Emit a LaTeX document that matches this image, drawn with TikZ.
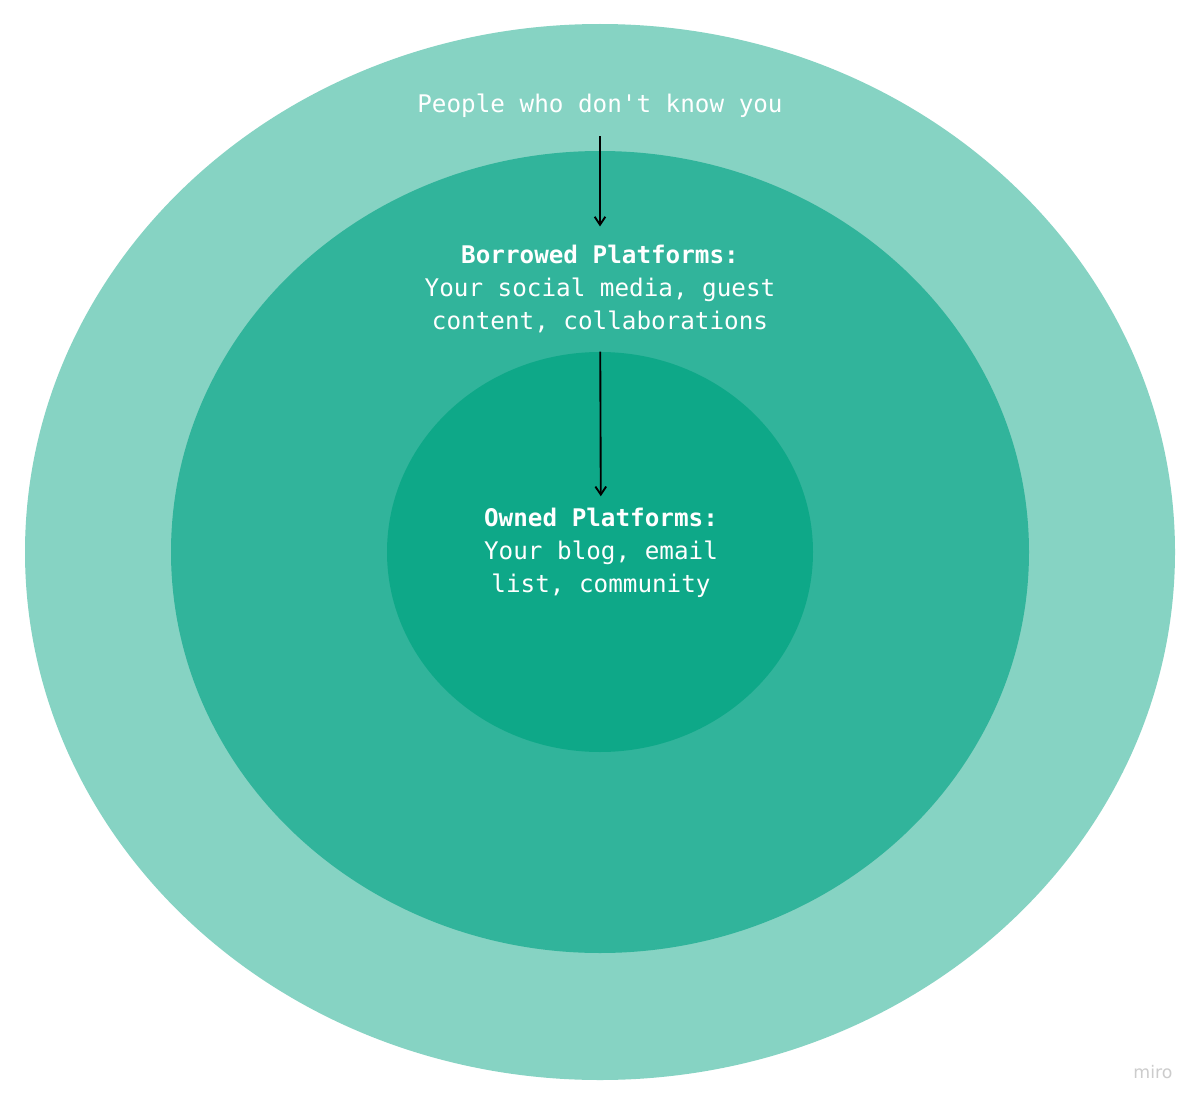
\documentclass[tikz,border=0pt]{standalone}
\usepackage{fontspec}
\setmonofont{DejaVu Sans Mono}
\setsansfont{DejaVu Sans}
\usetikzlibrary{arrows.meta,positioning}
\definecolor{ringout}{RGB}{134,211,195}
\definecolor{ringmid}{RGB}{49,180,155}
\definecolor{ringin}{RGB}{14,168,136}

\begin{document}
\begin{tikzpicture}[x=0.75pt,y=-0.75pt,
      every node/.style={font=\ttfamily\fontsize{18.2}{24.75}\selectfont},
      lbl/.style={text=white,align=center,inner sep=0pt,outer sep=14pt},
      ->,>={Straight Barb[length=6pt,width=8pt]}]
      \useasboundingbox[fill=white] (0,0) rectangle (1200,1106);
      % rings
      \fill[ringout] (600,552) ellipse [x radius=575,y radius=528];
      \fill[ringmid] (600,552) ellipse [x radius=429,y radius=401];
      \fill[ringin] (600,552) ellipse [x radius=213,y radius=200];
      % labels
      \node[lbl] (ppl) at (600,106) {People who don't know you};
      \node[lbl] (borrow) at (600,289) {\textbf{Borrowed Platforms:}\\Your social media, guest\\content, collaborations};
      \node[lbl] (own) at (601,553) {\textbf{Owned Platforms:}\\Your blog, email\\list, community};
      \node[text=black!20,font=\sffamily\fontsize{13}{15}\selectfont] (miro) at (1153,1072) {miro};
      \draw[line width=1.4pt] (ppl) -- (borrow);
      \draw[line width=1.4pt,shorten >=-5pt] (borrow) -- (own);
    \end{tikzpicture}
\end{document}
